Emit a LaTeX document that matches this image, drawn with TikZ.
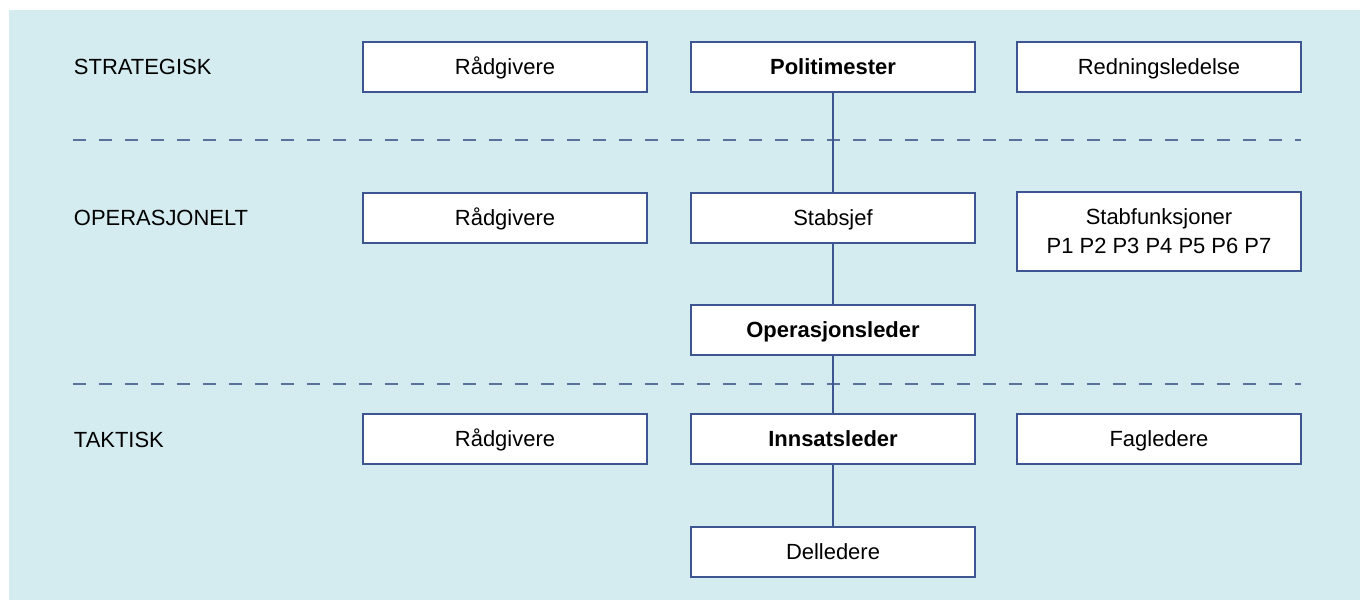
\documentclass[tikz,border=0pt]{standalone}
\usepackage{fontspec}
\setmainfont{Liberation Sans}

\definecolor{bakgrunn}{HTML}{D4ECF0}
\definecolor{ramme}{HTML}{3D5590}
\definecolor{strek}{HTML}{5A7299}

\begin{document}
\begin{tikzpicture}[x=0.02cm, y=-0.02cm, line width=1.1pt,
	boks/.style={draw=ramme, fill=white, minimum width=5.68cm, minimum height=1cm,
		align=center, text height=9pt, text depth=0pt, font=\fontsize{12.5}{16.4}\selectfont},
	nivaa/.style={anchor=west, inner sep=0pt, font=\fontsize{12.5}{15}\selectfont},
	skille/.style={draw=strek, dash pattern=on 0.26cm off 0.26cm}]

\useasboundingbox (0,0) rectangle (1360,600);
\fill[bakgrunn] (9,10) rectangle (1360,600);

% Nivaaene
\node[nivaa] (strat) at (73,67) {STRATEGISK};
\node[nivaa] (oper) at (73,218) {OPERASJONELT};
\node[nivaa] (takt) at (73,440) {TAKTISK};

% Skillelinjer
\foreach \y in {140, 384}{
	\draw[skille] (73,\y) -- (1301,\y);
}

% Strategisk
\node[boks] (raad1) at (505,67) {Rådgivere};
\node[boks] (polm) at (833,67) {\textbf{Politimester}};
\node[boks] (redn) at (1159,67) {Redningsledelse};

% Operasjonelt
\node[boks] (raad2) at (505,218) {Rådgivere};
\node[boks] (stabsjef) at (833,218) {Stabsjef};
\node[boks, minimum height=1.58cm, text height={}, text depth={}] (stab) at (1159,231.5) {Stabfunksjoner\\P1 P2 P3 P4 P5 P6 P7};
\node[boks] (opl) at (833,330) {\textbf{Operasjonsleder}};

% Taktisk
\node[boks] (raad3) at (505,439) {Rådgivere};
\node[boks] (il) at (833,439) {\textbf{Innsatsleder}};
\node[boks] (fag) at (1159,439) {Fagledere};
\node[boks] (dell) at (833,552) {Delledere};

% Linja nedover
\draw[ramme] (polm) -- (stabsjef);
\draw[ramme] (stabsjef) -- (opl);
\draw[ramme] (opl) -- (il);
\draw[ramme] (il) -- (dell);
\end{tikzpicture}
\end{document}
